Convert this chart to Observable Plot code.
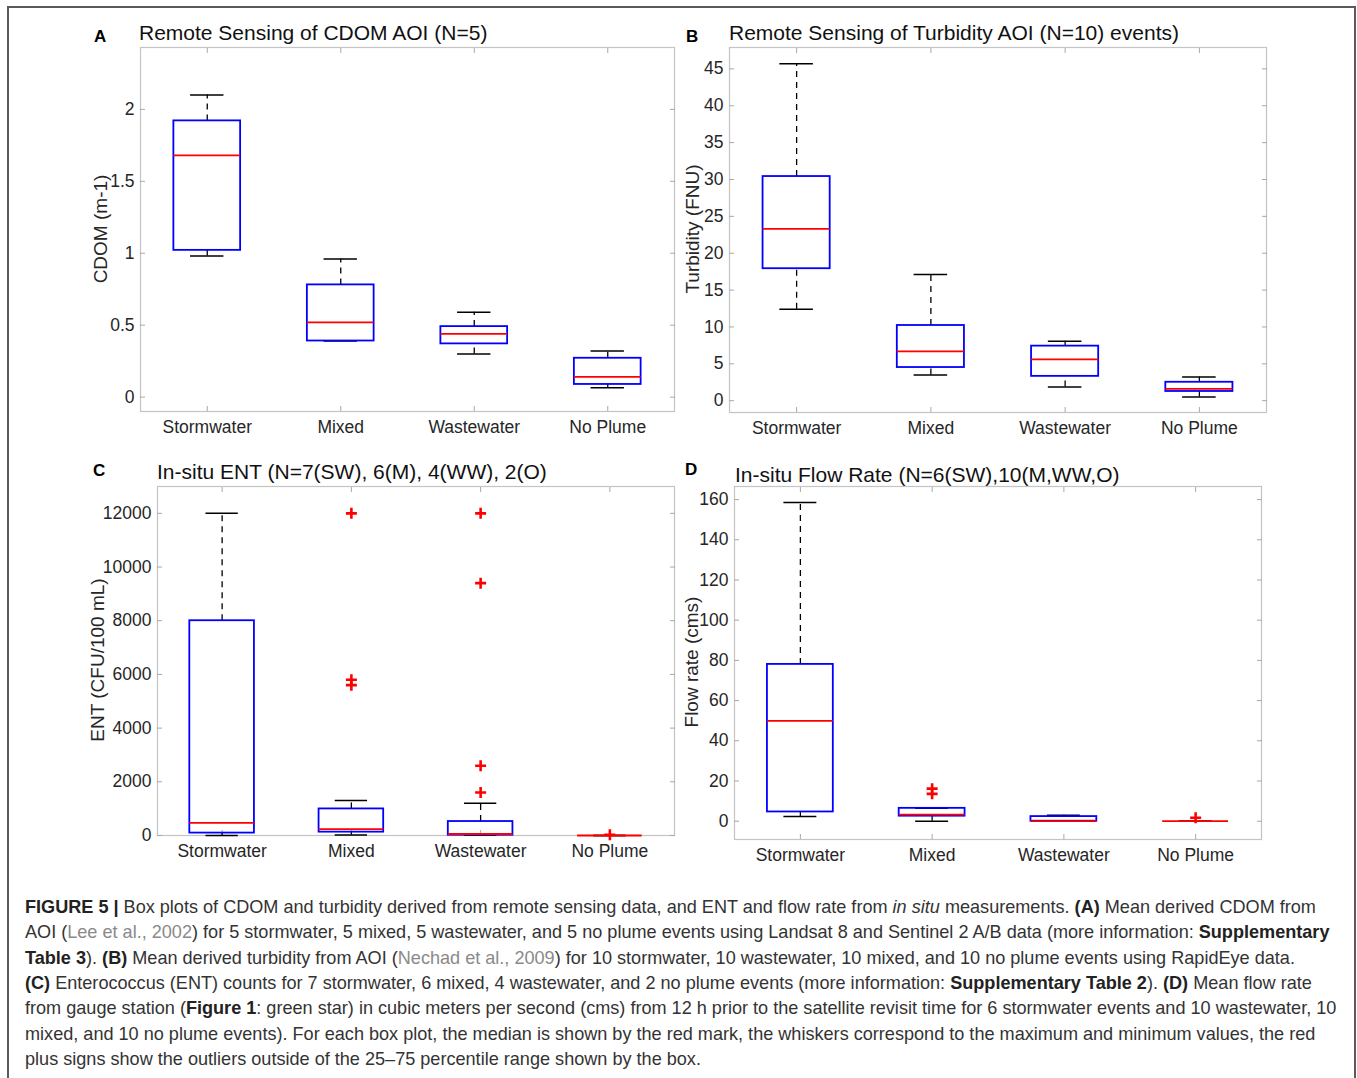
<!DOCTYPE html>
<html><head><meta charset="utf-8">
<script src="https://cdn.jsdelivr.net/npm/d3@7"></script>
<script src="https://cdn.jsdelivr.net/npm/@observablehq/plot@0.6"></script>
<style>
body{margin:0;background:#fff;font-family:"Liberation Sans",Arial,Helvetica,sans-serif;}
#page{position:relative;width:1357px;height:1078px;overflow:hidden;background:#fff;}
#border{position:absolute;left:7px;top:6px;width:1349px;height:1200px;border:2px solid #5a5a5a;box-sizing:border-box;}
.panel{position:absolute;}
.title{position:absolute;font-size:21px;line-height:21px;color:#111;white-space:nowrap;}
.letter{position:absolute;font-size:17px;line-height:17px;font-weight:bold;color:#000;}
.ylab{position:absolute;font-size:19px;line-height:19px;color:#262626;white-space:nowrap;transform:translate(-50%,-50%) rotate(-90deg);}
#caption{position:absolute;left:25px;top:895px;font-size:18.1px;line-height:25.35px;color:#333;white-space:nowrap;}
#caption .ref{color:#8a8a8a;}
#caption b{color:#222;}
</style>
</head>
<body>
<div id="page">
  <div id="border"></div>
  <div class="letter" style="left:94px;top:28px;">A</div>
  <div class="title" style="left:139px;top:22px;">Remote Sensing of CDOM AOI (N=5)</div>
  <div class="letter" style="left:686px;top:28px;">B</div>
  <div class="title" style="left:729px;top:22px;">Remote Sensing of Turbidity AOI (N=10) events)</div>
  <div class="letter" style="left:93px;top:462px;">C</div>
  <div class="title" style="left:157px;top:461px;">In-situ ENT (N=7(SW), 6(M), 4(WW), 2(O)</div>
  <div class="letter" style="left:685px;top:461px;">D</div>
  <div class="title" style="left:735px;top:464px;">In-situ Flow Rate (N=6(SW),10(M,WW,O)</div>
  <div class="ylab" style="left:100px;top:229px;">CDOM (m-1)</div>
  <div class="ylab" style="left:692px;top:229px;">Turbidity (FNU)</div>
  <div class="ylab" style="left:97px;top:660px;">ENT (CFU/100 mL)</div>
  <div class="ylab" style="left:691px;top:662px;">Flow rate (cms)</div>
  <div id="pA" class="panel"></div>
  <div id="pB" class="panel"></div>
  <div id="pC" class="panel"></div>
  <div id="pD" class="panel"></div>
  <div id="caption">
<b>FIGURE 5 |</b> Box plots of CDOM and turbidity derived from remote sensing data, and ENT and flow rate from <i>in situ</i> measurements. <b>(A)</b> Mean derived CDOM from<br>
AOI (<span class="ref">Lee et al., 2002</span>) for 5 stormwater, 5 mixed, 5 wastewater, and 5 no plume events using Landsat 8 and Sentinel 2 A/B data (more information: <b>Supplementary</b><br>
<b>Table 3</b>). <b>(B)</b> Mean derived turbidity from AOI (<span class="ref">Nechad et al., 2009</span>) for 10 stormwater, 10 wastewater, 10 mixed, and 10 no plume events using RapidEye data.<br>
<b>(C)</b> Enterococcus (ENT) counts for 7 stormwater, 6 mixed, 4 wastewater, and 2 no plume events (more information: <b>Supplementary Table 2</b>). <b>(D)</b> Mean flow rate<br>
from gauge station (<b>Figure 1</b>: green star) in cubic meters per second (cms) from 12 h prior to the satellite revisit time for 6 stormwater events and 10 wastewater, 10<br>
mixed, and 10 no plume events). For each box plot, the median is shown by the red mark, the whiskers correspond to the maximum and minimum values, the red<br>
plus signs show the outliers outside of the 25–75 percentile range shown by the box.
  </div>
</div>
<script>
const categories = ["Stormwater", "Mixed", "Wastewater", "No Plume"];

// (A) CDOM (m-1)
const cdomMin    = [0.98, 0.39, 0.30, 0.065];
const cdomQ1     = [1.02, 0.39, 0.37, 0.088];
const cdomMedian = [1.68, 0.52, 0.44, 0.14];
const cdomQ3     = [1.92, 0.78, 0.49, 0.27];
const cdomMax    = [2.10, 0.96, 0.59, 0.32];
const cdomTicks  = [0, 0.5, 1, 1.5, 2];

// (B) Turbidity (FNU)
const turbMin    = [12.4, 3.5, 1.85, 0.5];
const turbQ1     = [17.9, 4.5, 3.3, 1.25];
const turbMedian = [23.3, 6.7, 5.6, 1.6];
const turbQ3     = [30.4, 10.2, 7.4, 2.5];
const turbMax    = [45.7, 17.1, 8.05, 3.2];
const turbTicks  = [0, 5, 10, 15, 20, 25, 30, 35, 40, 45];

// (C) ENT (CFU/100 mL)
const entMin    = [0, 20, 5, 0];
const entQ1     = [90, 125, 10, 0];
const entMedian = [470, 236, 55, 0];
const entQ3     = [8000, 990, 520, 0];
const entMax    = [12000, 1300, 1200, 0];
const entOutlierGroup = ["Mixed", "Mixed", "Mixed", "Wastewater", "Wastewater", "Wastewater", "Wastewater", "No Plume"];
const entOutlierValue = [12000, 5800, 5600, 12000, 9400, 2600, 1600, 30];
const entTicks = [0, 2000, 4000, 6000, 8000, 10000, 12000];

// (D) Flow rate (cms)
const flowMin    = [2.3, 0, 0, 0];
const flowQ1     = [4.6, 2.5, 0, 0];
const flowMedian = [49.9, 3.3, 0, 0];
const flowQ3     = [78, 6.4, 2.3, 0];
const flowMax    = [158.5, 6.4, 3.0, 0];
const flowOutlierGroup = ["Mixed", "Mixed", "No Plume"];
const flowOutlierValue = [16.2, 13.6, 1.7];
const flowTicks = [0, 20, 40, 60, 80, 100, 120, 140, 160];

const plusSymbol = {
  draw(context, size) {
    const r = Math.sqrt(size / Math.PI);
    context.moveTo(-r, 0); context.lineTo(r, 0);
    context.moveTo(0, -r); context.lineTo(0, r);
  }
};

const ML = 80, MR = 10, MT = 10, MB = 40;
const tickColor = "#a8a8a8";

function boxPanel(id, frame, domain, ticks, mins, q1s, meds, q3s, maxs, outGroup, outVal) {
  const rows = categories.map((c, k) => ({
    i: k + 1, min: mins[k], q1: q1s[k], median: meds[k], q3: q3s[k], max: maxs[k]
  }));
  const outliers = (outGroup || []).map((g, k) => ({ i: categories.indexOf(g) + 1, value: outVal[k] }));
  const fmt = d => String(d);
  const chart = Plot.plot({
    width: ML + frame.w + MR,
    height: MT + frame.h + MB,
    marginLeft: ML, marginRight: MR, marginTop: MT, marginBottom: MB,
    x: { domain: [0.5, 4.5] },
    y: { domain },
    style: { fontFamily: '"Liberation Sans", Arial, Helvetica, sans-serif', fontSize: "17.5px", color: "#262626", background: "transparent", overflow: "visible" },
    marks: [
      Plot.frame({ stroke: "#c4c4c4", strokeWidth: 1.2 }),
      // tick labels
      Plot.axisX({ anchor: "bottom", ticks: [1, 2, 3, 4], tickFormat: i => categories[i - 1], tickSize: 0, tickPadding: 9, label: null }),
      Plot.axisY({ anchor: "left", ticks, tickFormat: fmt, tickSize: 0, tickPadding: 6, label: null }),
      // inward tick marks on all four sides
      Plot.axisX({ anchor: "bottom", ticks: [1, 2, 3, 4], tickFormat: () => "", tickSize: 5, dy: -5, stroke: tickColor, label: null }),
      Plot.axisX({ anchor: "top", ticks: [1, 2, 3, 4], tickFormat: () => "", tickSize: 5, dy: 5, stroke: tickColor, label: null }),
      Plot.axisY({ anchor: "left", ticks, tickFormat: () => "", tickSize: 5, dx: 5, stroke: tickColor, label: null }),
      Plot.axisY({ anchor: "right", ticks, tickFormat: () => "", tickSize: 5, dx: -5, stroke: tickColor, label: null }),
      // whiskers
      Plot.ruleX(rows, { x: "i", y1: "q3", y2: "max", stroke: "#000", strokeWidth: 1.3, strokeDasharray: "6,5" }),
      Plot.ruleX(rows, { x: "i", y1: "min", y2: "q1", stroke: "#000", strokeWidth: 1.3, strokeDasharray: "6,5" }),
      // caps
      Plot.ruleY(rows, { y: "max", x1: d => d.i - 0.125, x2: d => d.i + 0.125, stroke: "#000", strokeWidth: 1.5 }),
      Plot.ruleY(rows, { y: "min", x1: d => d.i - 0.125, x2: d => d.i + 0.125, stroke: "#000", strokeWidth: 1.5 }),
      // boxes
      Plot.rect(rows, { x1: d => d.i - 0.25, x2: d => d.i + 0.25, y1: "q1", y2: "q3", fill: "none", stroke: "#0000ff", strokeWidth: 1.8 }),
      // medians
      Plot.ruleY(rows, { y: "median", x1: d => d.i - 0.25, x2: d => d.i + 0.25, stroke: "#ff0000", strokeWidth: 1.8 }),
      // outliers
      Plot.dot(outliers, { x: "i", y: "value", symbol: plusSymbol, r: 5.5, fill: "none", stroke: "#ff0000", strokeWidth: 2.6 })
    ]
  });
  const el = document.getElementById(id);
  el.style.left = (frame.x - ML) + "px";
  el.style.top = (frame.y - MT) + "px";
  el.appendChild(chart);
}

boxPanel("pA", { x: 140, y: 47, w: 534, h: 364 }, [-0.1, 2.43], cdomTicks, cdomMin, cdomQ1, cdomMedian, cdomQ3, cdomMax);
boxPanel("pB", { x: 729, y: 47, w: 537, h: 365 }, [-1.6, 47.9], turbTicks, turbMin, turbQ1, turbMedian, turbQ3, turbMax);
boxPanel("pC", { x: 157, y: 486, w: 517, h: 349 }, [0, 13000], entTicks, entMin, entQ1, entMedian, entQ3, entMax, entOutlierGroup, entOutlierValue);
boxPanel("pD", { x: 734, y: 486, w: 527, h: 353 }, [-9.1, 166.5], flowTicks, flowMin, flowQ1, flowMedian, flowQ3, flowMax, flowOutlierGroup, flowOutlierValue);
</script>
</body></html>
